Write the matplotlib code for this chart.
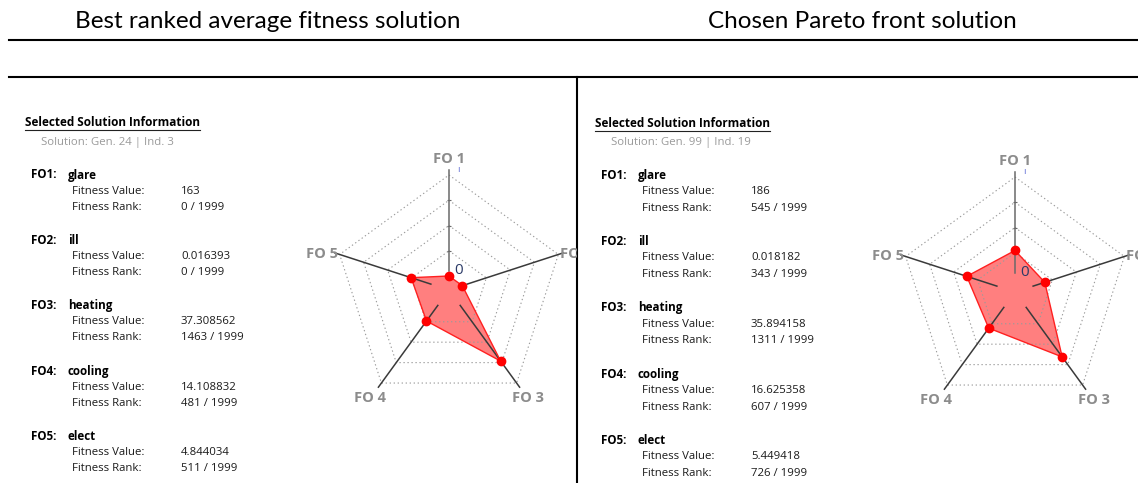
import numpy as np
import matplotlib
matplotlib.use('Agg')
import matplotlib.pyplot as plt
from matplotlib.transforms import Bbox, TransformedBbox

# data
objectives = ['glare', 'ill', 'heating', 'cooling', 'elect']
axis_labels = ['FO 1', 'FO 2', 'FO 3', 'FO 4', 'FO 5']
rank_total = 1999
grid_levels = [0.25, 0.5, 0.75, 1.0]

best_title = 'Best ranked average fitness solution'
best_solution = 'Solution: Gen. 24 | Ind. 3'
best_values = ['163', '0.016393', '37.308562', '14.108832', '4.844034']
best_ranks = [0, 0, 1463, 481, 511]

pareto_title = 'Chosen Pareto front solution'
pareto_solution = 'Solution: Gen. 99 | Ind. 19'
pareto_values = ['186', '0.018182', '35.894158', '16.625358', '5.449418']
pareto_ranks = [545, 343, 1311, 607, 726]

W, H = 1138, 483
UI = 'Open Sans'

fig = plt.figure(figsize=(W / 100, H / 100), dpi=100)
bg = fig.add_axes([0, 0, 1, 1])
bg.set_xlim(0, W)
bg.set_ylim(H, 0)
bg.axis('off')

# header lines and divider
bg.plot([9, W], [40, 40], color='black', lw=1.5)
bg.plot([9, W], [77, 77], color='black', lw=1.5)
bg.plot([577.5, 577.5], [77, H], color='black', lw=1.5)

bg.text(268, 22, best_title, ha='center', va='center', fontsize=17.5, family='Lato')
bg.text(862, 22, pareto_title, ha='center', va='center', fontsize=17.5, family='Lato')


def info_panel(x0, y0, solution, values, ranks, step, dy):
    head = bg.text(x0, y0, 'Selected Solution Information', fontsize=8.5,
                   fontweight='bold', va='center', family=UI)
    bg.text(x0 + 16, y0 + 19, solution, fontsize=8.2, color='#9a9a9a',
            va='center', family=UI)
    for i, name in enumerate(objectives):
        yb = y0 + 52 + step * i
        bg.text(x0 + 6, yb, f'FO{i + 1}:', fontsize=8.4, fontweight='bold',
                va='center', family=UI)
        bg.text(x0 + 43, yb, name, fontsize=8.4, fontweight='bold',
                va='center', family=UI)
        bg.text(x0 + 47.5, yb + dy, 'Fitness Value:', fontsize=8.2,
                va='center', family=UI, color='#1a1a1a')
        bg.text(x0 + 156, yb + dy, values[i], fontsize=8.2,
                va='center', family=UI, color='#1a1a1a')
        bg.text(x0 + 47.5, yb + 2 * dy, 'Fitness Rank:', fontsize=8.2,
                va='center', family=UI, color='#1a1a1a')
        bg.text(x0 + 156, yb + 2 * dy, f'{ranks[i]} / {rank_total}', fontsize=8.2,
                va='center', family=UI, color='#1a1a1a')
    return head


def radar(cx, cy, ranks, clip_x0, clip_x1):
    px_per_unit = 101 / rank_total
    origin = -14 / px_per_unit
    rmax = 2200
    radius = (rmax - origin) * px_per_unit
    ax = fig.add_axes([(cx - radius) / W, (H - cy - radius) / H,
                       2 * radius / W, 2 * radius / H], projection='polar')
    ax.set_theta_zero_location('N')
    ax.set_theta_direction(-1)
    ax.set_ylim(0, rmax)
    ax.set_rorigin(origin)
    ax.axis('off')

    theta = np.deg2rad(np.arange(len(ranks)) * 72)
    closed = np.append(theta, theta[0])
    for lev in grid_levels:
        ax.plot(closed, [lev * rank_total] * len(closed), ls=(0, (1.2, 2.4)),
                color='#9a9a9a', lw=0.8, clip_on=False)
    for k, th in enumerate(theta):
        ax.plot([th, th], [100, 2100], color='#6a6a6a' if k == 0 else '#3a3a3a',
                lw=1.1, clip_on=False)
    ax.plot([0] * 3, [lev * rank_total for lev in grid_levels[:-1]],
            ls='none', marker='_', ms=3, mew=0.8, color='#6a6a6a', clip_on=False)

    vals = np.append(ranks, ranks[0])
    ax.fill(closed, vals, color='#ff0000', alpha=0.5, lw=0, clip_on=False)
    ax.plot(closed, vals, color='#ff2020', lw=1, clip_on=False)
    ax.plot(theta, ranks, 'o', color='#ff0000', ms=6, clip_on=False)

    ax.annotate('0', xy=(0, 0), xytext=(5, 5), textcoords='offset pixels',
                ha='left', va='center', fontsize=11, color='#2b3a67', family=UI)
    ax.annotate('I', xy=(0, rank_total), xytext=(9, 5), textcoords='offset pixels',
                ha='center', va='center', fontsize=6, color='#4a5ad0', family=UI)

    clip = TransformedBbox(Bbox.from_bounds(clip_x0 / W, 0, (clip_x1 - clip_x0) / W, 1),
                           fig.transFigure)
    place = [(2316, 'center', 'center'), (2040, 'left', 'center'),
             (2375, 'center', 'center'), (2375, 'center', 'center'),
             (2040, 'right', 'center')]
    for th, lab, (r, ha, va) in zip(theta, axis_labels, place):
        t = ax.text(th, r, lab, ha=ha, va=va, fontsize=10.5, fontweight='bold',
                    color='#8c8c8c', family=UI, clip_on=True)
        t.set_clip_path(None)
        t.set_clip_box(clip)
    return ax


h1 = info_panel(25, 123, best_solution, best_values, best_ranks, 65.4, 16)
h2 = info_panel(595, 123.3, pareto_solution, pareto_values, pareto_ranks, 66.3, 16.4)
radar(449, 290, best_ranks, 0, 576.5)
radar(1015, 292, pareto_ranks, 579, W)

# underline the panel headings
fig.canvas.draw()
renderer = fig.canvas.get_renderer()
for h in (h1, h2):
    bb = h.get_window_extent(renderer)
    (x0, y0), (x1, y1) = bg.transData.inverted().transform([[bb.x0, bb.y0], [bb.x1, bb.y1]])
    bg.plot([x0, x1], [y0 + 1, y0 + 1], color='#222222', lw=0.8)

fig.savefig('out.png', dpi=100)
